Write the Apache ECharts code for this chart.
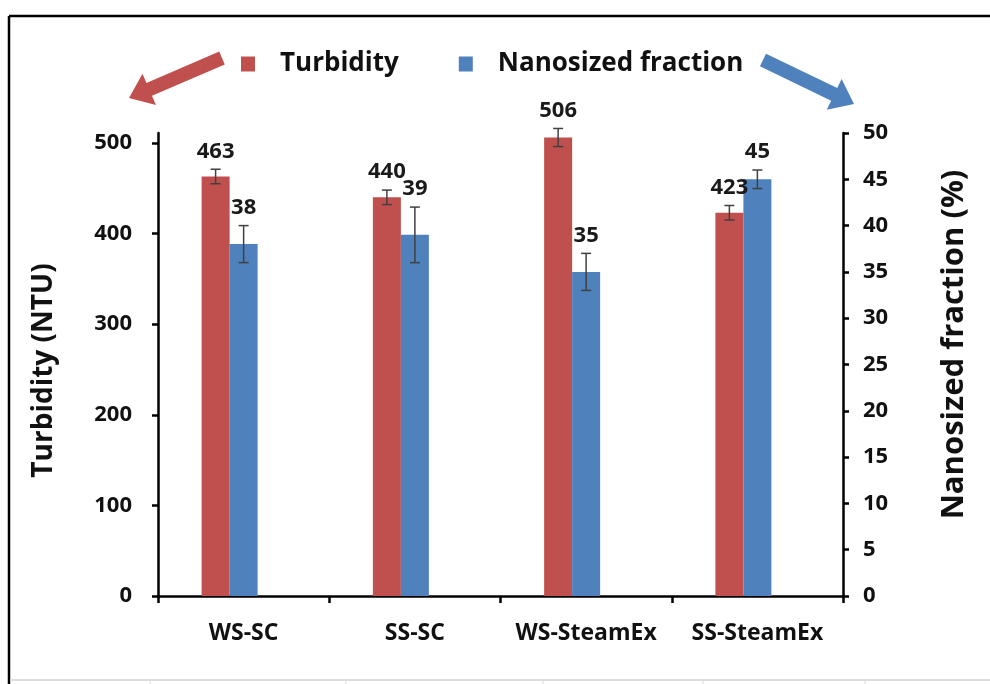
<!DOCTYPE html>
<html>
<head>
<meta charset="utf-8">
<script src="https://cdn.jsdelivr.net/npm/echarts@6/dist/echarts.min.js"></script>
<style>
html,body{margin:0;padding:0;background:#fff;}
#chart{width:990px;height:684px;}
</style>
</head>
<body>
<div id="chart"></div>
<script>
const categories = ['WS-SC', 'SS-SC', 'WS-SteamEx', 'SS-SteamEx'];
const turbidity = [463, 440, 506, 423];
const turbidityErr = [8, 8, 10, 8];
const nanoFraction = [38, 39, 35, 45];
const nanoErr = [2, 3, 2, 1];
const turbidityTicks = [0, 100, 200, 300, 400, 500];

const RED = '#C0504D';
const BLUE = '#4F81BD';
const FONT = '"Open Sans", "Liberation Sans", sans-serif';
const BAR_W = 28;

function arrowPoints(x0, y0, x1, y1, shaftW, headW, headL) {
  const dx = x1 - x0, dy = y1 - y0;
  const len = Math.sqrt(dx * dx + dy * dy);
  const ux = dx / len, uy = dy / len;
  const nx = -uy, ny = ux;
  const bx = x1 - ux * headL, by = y1 - uy * headL;
  return [
    [x0 + nx * shaftW / 2, y0 + ny * shaftW / 2],
    [bx + nx * shaftW / 2, by + ny * shaftW / 2],
    [bx + nx * headW / 2, by + ny * headW / 2],
    [x1, y1],
    [bx - nx * headW / 2, by - ny * headW / 2],
    [bx - nx * shaftW / 2, by - ny * shaftW / 2],
    [x0 - nx * shaftW / 2, y0 - ny * shaftW / 2]
  ];
}

function errorRenderer(offset) {
  return function (params, api) {
    const i = api.value(0), v = api.value(1), e = api.value(2);
    const top = api.coord([i, v + e]);
    const bot = api.coord([i, v - e]);
    const cx = top[0] + offset;
    const cap = 5;
    const st = { stroke: '#404040', lineWidth: 1.5 };
    return {
      type: 'group',
      children: [
        { type: 'line', shape: { x1: cx, y1: top[1], x2: cx, y2: bot[1] }, style: st },
        { type: 'line', shape: { x1: cx - cap, y1: top[1], x2: cx + cap, y2: top[1] }, style: st },
        { type: 'line', shape: { x1: cx - cap, y1: bot[1], x2: cx + cap, y2: bot[1] }, style: st },
        { type: 'text', style: { text: String(v), x: cx, y: top[1] - 7, align: 'center', verticalAlign: 'bottom',
            font: 'bold 22px ' + FONT, fill: '#1a1a1a' } }
      ]
    };
  };
}

const chart = echarts.init(document.getElementById('chart'), null, { renderer: 'canvas' });
chart.setOption({
  backgroundColor: '#ffffff',
  animation: false,
  grid: { left: 158, right: 147, top: 133, bottom: 88, containLabel: false },
  legend: {
    data: ['Turbidity', 'Nanosized fraction'],
    left: 236, top: 46,
    icon: 'rect', itemWidth: 14, itemHeight: 15, itemGap: 60,
    textStyle: { fontFamily: FONT, fontWeight: 'bold', fontSize: 26, color: '#111', padding: [0, 0, 0, 20] }
  },
  xAxis: {
    type: 'category',
    data: categories,
    axisLine: { lineStyle: { color: '#000', width: 2.5 } },
    axisTick: { show: true, interval: 0, length: 7, lineStyle: { color: '#000', width: 2.5 } },
    axisLabel: { interval: 0, margin: 26, fontFamily: FONT, fontWeight: 'bold', fontSize: 23, color: '#111' },
    splitLine: { show: false }
  },
  yAxis: [
    {
      type: 'value', min: 0, max: 511, interval: 100,
      name: 'Turbidity (NTU)', nameLocation: 'middle', nameRotate: 90, nameGap: 100,
      nameTextStyle: { fontFamily: FONT, fontWeight: 'bold', fontSize: 28, color: '#111', padding: [0, 12, 0, 0] },
      axisLine: { show: true, lineStyle: { color: '#000', width: 2.5 } },
      axisTick: { show: true, length: 6, lineStyle: { color: '#000', width: 2.5 }, customValues: turbidityTicks },
      axisLabel: { margin: 26, fontFamily: FONT, fontWeight: 'bold', fontSize: 22, color: '#111', customValues: turbidityTicks },
      splitLine: { show: false }
    },
    {
      type: 'value', min: 0, max: 50, interval: 5, position: 'right',
      name: 'Nanosized fraction (%)', nameLocation: 'middle', nameRotate: 90, nameGap: 96,
      nameTextStyle: { fontFamily: FONT, fontWeight: 'bold', fontSize: 31, color: '#111', padding: [0, 0, 0, 40] },
      axisLine: { show: true, lineStyle: { color: '#000', width: 2.5 } },
      axisTick: { show: true, length: 6, lineStyle: { color: '#000', width: 2.5 } },
      axisLabel: { margin: 20, fontFamily: FONT, fontWeight: 'bold', fontSize: 22, color: '#111' },
      splitLine: { show: false }
    }
  ],
  series: [
    { name: 'Turbidity', type: 'bar', yAxisIndex: 0, data: turbidity, barWidth: BAR_W, barGap: '0%',
      itemStyle: { color: RED } },
    { name: 'Nanosized fraction', type: 'bar', yAxisIndex: 1, data: nanoFraction, barWidth: BAR_W, barGap: '0%',
      itemStyle: { color: BLUE } },
    { name: 'spacer', type: 'bar', yAxisIndex: 0, data: categories.map(() => '-'), barWidth: BAR_W, barGap: '0%',
      silent: true, itemStyle: { color: 'rgba(0,0,0,0)' } },
    { name: 'Turbidity err', type: 'custom', yAxisIndex: 0, z: 5, silent: true,
      renderItem: errorRenderer(-BAR_W),
      data: categories.map((c, i) => [i, turbidity[i], turbidityErr[i]]) },
    { name: 'Nano err', type: 'custom', yAxisIndex: 1, z: 5, silent: true,
      renderItem: errorRenderer(0),
      data: categories.map((c, i) => [i, nanoFraction[i], nanoErr[i]]) }
  ],
  graphic: [
    { type: 'line', shape: { x1: 9, y1: 16, x2: 990, y2: 16 }, style: { stroke: '#000', lineWidth: 2.5 } },
    { type: 'line', shape: { x1: 9, y1: 16, x2: 9, y2: 684 }, style: { stroke: '#000', lineWidth: 2.5 } },
    { type: 'line', shape: { x1: 10, y1: 680, x2: 990, y2: 680 }, style: { stroke: '#dcdcdc', lineWidth: 2 } },
    { type: 'line', shape: { x1: 150, y1: 681, x2: 150, y2: 684 }, style: { stroke: '#dcdcdc', lineWidth: 1 } },
    { type: 'line', shape: { x1: 346, y1: 681, x2: 346, y2: 684 }, style: { stroke: '#dcdcdc', lineWidth: 1 } },
    { type: 'line', shape: { x1: 543, y1: 681, x2: 543, y2: 684 }, style: { stroke: '#dcdcdc', lineWidth: 1 } },
    { type: 'line', shape: { x1: 703, y1: 681, x2: 703, y2: 684 }, style: { stroke: '#dcdcdc', lineWidth: 1 } },
    { type: 'line', shape: { x1: 865, y1: 681, x2: 865, y2: 684 }, style: { stroke: '#dcdcdc', lineWidth: 1 } },
    { type: 'polygon', shape: { points: arrowPoints(222, 58, 129, 98, 14, 34, 22) }, style: { fill: RED } },
    { type: 'polygon', shape: { points: arrowPoints(763, 60, 854, 104, 14, 34, 22) }, style: { fill: BLUE } }
  ]
});
</script>
</body>
</html>
